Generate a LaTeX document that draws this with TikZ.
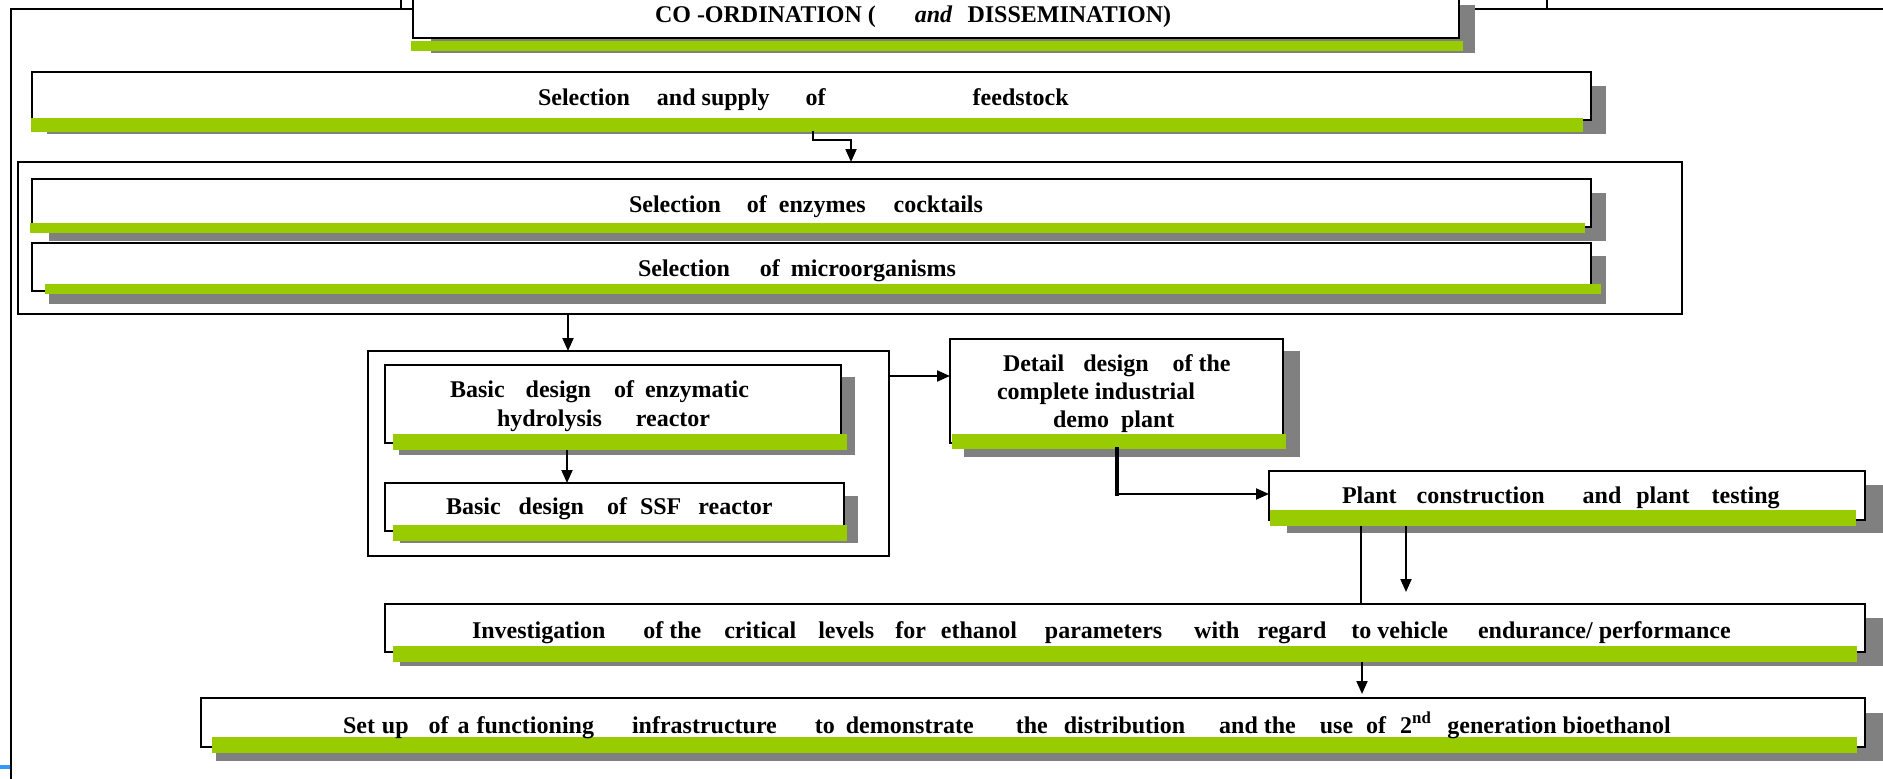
\documentclass[tikz,border=0pt]{standalone}
\usepackage{fontspec}
\setmainfont{Liberation Serif}
\usetikzlibrary{fit,arrows.meta}
\definecolor{barg}{RGB}{153,204,0}
\definecolor{shad}{RGB}{128,128,128}
\definecolor{markb}{RGB}{51,153,255}
\newcommand\gp[1]{\hspace*{#1pt}}
\begin{document}
\begin{tikzpicture}[x=1pt,y=-1pt,
  shadowst/.style={fill=shad,draw=none,inner sep=0pt,outer sep=0pt,rectangle},
  boxst/.style={fill=white,draw=black,line width=2.2pt,inner sep=0pt,outer sep=0pt,rectangle},
  barst/.style={fill=barg,draw=none,inner sep=0pt,outer sep=0pt,rectangle},
  grpst/.style={fill=white,draw=black,line width=2.5pt,inner sep=0pt,outer sep=0pt,rectangle},
  framest/.style={line width=2pt},
  linest/.style={line width=2pt},
  arr/.style={line width=2pt,-{Triangle[length=13pt,width=11pt]}},
  txt/.style={anchor=base west,inner sep=0pt,outer sep=0pt,font=\fontsize{24}{28}\selectfont\bfseries}]
\useasboundingbox (0,0) rectangle (1883,779);
% outer frame
\draw[framest] (11,779) -- (11,9) -- (1883,9);
\draw[framest] (401,0) -- (401,9);
\draw[framest] (1547,0) -- (1547,9);
\fill[markb] (0,765) rectangle (10,769);
% CO box
\node[shadowst,fit={(431,5)(1475,53)}] (coS) {};
\node[boxst,fit={(413,-10)(1459,38)}] (co) {};
\node[barst,fit={(411,41)(1463,51)}] (coG) {};
% feedstock
\node[shadowst,fit={(47,86)(1606,134)}] (feedS) {};
\node[boxst,fit={(32,72)(1591,120)}] (feed) {};
\node[barst,fit={(31,118)(1583,132)}] (feedG) {};
% group 1
\node[grpst,fit={(18,162)(1682,314)}] (grp1) {};
\node[shadowst,fit={(49,193)(1606,241)}] (enzS) {};
\node[boxst,fit={(32,179)(1591,227)}] (enz) {};
\node[barst,fit={(30,223)(1585,233)}] (enzG) {};
\node[shadowst,fit={(49,256)(1606,304)}] (micS) {};
\node[boxst,fit={(32,243)(1591,291)}] (mic) {};
\node[barst,fit={(45,284)(1601,294)}] (micG) {};
% group 2
\node[grpst,fit={(368,351)(889,556)}] (grp2) {};
\node[shadowst,fit={(399,377)(855,455)}] (basS) {};
\node[boxst,fit={(385,365)(841,443)}] (bas) {};
\node[barst,fit={(393,434)(847,450)}] (basG) {};
\node[shadowst,fit={(400,496)(858,543)}] (ssfS) {};
\node[boxst,fit={(385,483)(844,531)}] (ssf) {};
\node[barst,fit={(393,525)(847,541)}] (ssfG) {};
% detail
\node[shadowst,fit={(964,351)(1300,457)}] (detS) {};
\node[boxst,fit={(950,339)(1283,443)}] (det) {};
\node[barst,fit={(952,434)(1286,449)}] (detG) {};
% plant
\node[shadowst,fit={(1287,485)(1883,533)}] (plantS) {};
\node[boxst,fit={(1269,471)(1865,520)}] (plant) {};
\node[barst,fit={(1270,510)(1856,526)}] (plantG) {};
% investigation
\node[shadowst,fit={(400,618)(1883,666)}] (invS) {};
\node[boxst,fit={(385,604)(1865,652)}] (inv) {};
\node[barst,fit={(393,646)(1857,662)}] (invG) {};
% set up
\node[shadowst,fit={(216,713)(1883,761)}] (setS) {};
\node[boxst,fit={(201,698)(1865,747)}] (setup) {};
\node[barst,fit={(212,737)(1857,753)}] (setG) {};
% connectors
\coordinate (k1) at (813,140);
\coordinate (k2) at (851,140);
\draw[line width=2.6pt,line cap=rect] (feedG.south -| k1) -- (k1) -- (k2);
\draw[arr] (k2) -- (grp1.north -| k2);
\coordinate (k3) at (568,330);
\draw[arr] (grp1.south -| k3) -- (grp2.north -| k3);
\coordinate (k4) at (567,460);
\draw[arr] (basG.south -| k4) -- (ssf.north -| k4);
\coordinate (k5) at (900,376);
\draw[arr] (grp2.east |- k5) -- (det.west |- k5);
\coordinate (k6) at (1117,494);
\draw[line width=3.5pt,line cap=rect] (detG.south -| k6) -- (k6);
\draw[arr] (k6) -- (plant.west |- k6);
\coordinate (k7) at (1361,560);
\draw[linest] (plantG.south -| k7) -- (inv.north -| k7);
\coordinate (k8) at (1406,592);
\draw[arr] (plantG.south -| k8) -- (k8);
\coordinate (k9) at (1362,680);
\draw[arr,shorten >=4pt] (invG.south -| k9) -- (setup.north -| k9);
% texts
\node[txt] (coT) at (655,23) {CO -ORDINATION (\gp{39}\textit{and}\gp{15}DISSEMINATION)};
\node[txt] (feedT) at (538,105) {Selection\gp{27}and supply\gp{36}of\gp{147}feedstock};
\node[txt] (enzT) at (629,212) {Selection\gp{26}of\gp{12}enzymes\gp{28}cocktails};
\node[txt] (micT) at (638,276) {Selection\gp{30}of\gp{11}microorganisms};
\node[txt] (basA) at (450,397) {Basic\gp{21}design\gp{23}of\gp{11}enzymatic};
\node[txt] (basB) at (497,426) {hydrolysis\gp{34}reactor};
\node[txt] (ssfT) at (446,514) {Basic\gp{18}design\gp{23}of\gp{13}SSF\gp{17}reactor};
\node[txt] (detA) at (1003,371) {Detail\gp{19}design\gp{24}of the};
\node[txt] (detB) at (997,399) {complete industrial};
\node[txt] (detC) at (1053,427) {demo\gp{12}plant};
\node[txt] (plantT) at (1342,503) {Plant\gp{20}construction\gp{38}and\gp{15}plant\gp{22}testing};
\node[txt] (invT) at (472,638) {Investigation\gp{38}of the\gp{23}critical\gp{22}levels\gp{21}for\gp{15}ethanol\gp{28}parameters\gp{32}with\gp{18}regard\gp{25}to vehicle\gp{30}endurance/ performance};
\node[txt] (setT) at (343,733) {Set\gp{7}up\gp{20}of\gp{9}a\gp{7}functioning\gp{38}infrastructure\gp{38}to\gp{11}demonstrate\gp{42}the\gp{16}distribution\gp{34}and the\gp{24}use\gp{13}of\gp{14}2\textsuperscript{nd}\gp{16}generation bioethanol};
\end{tikzpicture}
\end{document}
